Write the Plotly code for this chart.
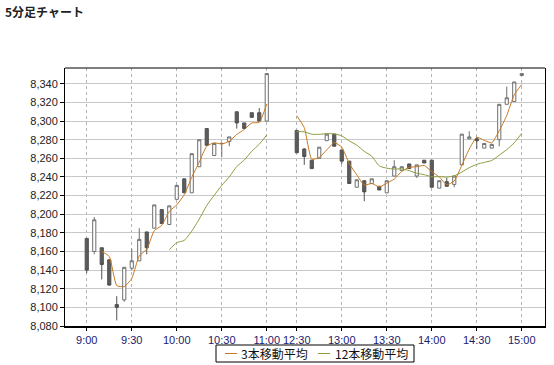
import plotly.graph_objects as go
import pandas as pd

# ---- data (5-minute bars) ----
times = ["9:00","9:05","9:10","9:15","9:20","9:25","9:30","9:35","9:40","9:45","9:50","9:55",
         "10:00","10:05","10:10","10:15","10:20","10:25","10:30","10:35","10:40","10:45","10:50","10:55","11:00",
         "12:30","12:35","12:40","12:45","12:50","12:55","13:00","13:05","13:10","13:15","13:20","13:25",
         "13:30","13:35","13:40","13:45","13:50","13:55","14:00","14:05","14:10","14:15","14:20","14:25",
         "14:30","14:35","14:40","14:45","14:50","14:55","15:00"]
opens  = [8174,8160,8164,8151,8103,8108,8142,8150,8181,8185,8205,8189,
          8216,8238,8223,8251,8292,8263,8276,8278,8310,8298,8309,8309,8300,
          8290,8270,8258,8260,8279,8286,8269,8257,8229,8236,8233,8230,
          8223,8241,8247,8254,8241,8258,8258,8228,8235,8232,8253,8281,
          8281,8271,8271,8280,8318,8321,8349]
highs  = [8174,8197,8164,8152,8112,8143,8163,8185,8181,8210,8205,8209,
          8231,8238,8265,8280,8292,8276,8276,8283,8310,8298,8309,8314,8351,
          8290,8271,8258,8272,8286,8286,8269,8257,8237,8236,8238,8230,
          8236,8258,8251,8254,8253,8258,8258,8236,8239,8241,8286,8289,
          8283,8276,8275,8318,8337,8342,8351]
lows   = [8137,8157,8130,8123,8086,8106,8140,8150,8157,8185,8190,8189,
          8216,8223,8223,8251,8274,8263,8261,8273,8292,8292,8304,8300,8300,
          8266,8253,8249,8260,8279,8273,8254,8233,8229,8214,8233,8226,
          8223,8241,8247,8249,8239,8255,8229,8228,8230,8229,8253,8281,
          8270,8271,8271,8273,8318,8321,8349]
closes = [8140,8194,8146,8124,8100,8143,8150,8173,8164,8210,8190,8209,
          8231,8223,8265,8280,8274,8276,8276,8283,8298,8292,8304,8300,8351,
          8266,8262,8249,8272,8286,8273,8257,8233,8237,8224,8238,8226,
          8236,8251,8251,8249,8253,8255,8229,8236,8230,8241,8286,8283,
          8279,8276,8275,8318,8325,8342,8351]

tick_labels = ["9:00","9:30","10:00","10:30","11:00","12:30","13:00","13:30","14:00","14:30","15:00"]
y_ticks = list(range(8080, 8341, 20))
series_names = ["3本移動平均", "12本移動平均"]
series_colors = ["#c8781e", "#8c9c3c"]

LUNCH_GAP = 3  # empty slots between morning close and afternoon open


def slot(t):
    h, m = map(int, t.split(":"))
    mins = h * 60 + m
    if mins <= 11 * 60:
        return (mins - 9 * 60) / 5
    return (11 * 60 - 9 * 60) / 5 + 1 + LUNCH_GAP + (mins - (12 * 60 + 30)) / 5


xs = [slot(t) for t in times]
tick_pos = [slot(t) for t in tick_labels]

s = pd.Series(closes, dtype=float)
ma3 = s.rolling(3).mean().tolist()
ma12 = s.rolling(12).mean().tolist()

# break the moving-average lines over the lunch gap
n_am = sum(1 for x in xs if x <= 24)
def with_break(vals):
    return vals[:n_am] + [None] + vals[n_am:]
xs_line = xs[:n_am] + [xs[n_am - 1] + 1] + xs[n_am:]

fig = go.Figure()
fig.add_trace(go.Candlestick(
    x=xs, open=opens, high=highs, low=lows, close=closes,
    increasing=dict(line=dict(color="#6e6e6e", width=1), fillcolor="#ffffff"),
    decreasing=dict(line=dict(color="#505050", width=1), fillcolor="#5c5c5c"),
    whiskerwidth=0, showlegend=False, hoverinfo="skip",
))
for name, color, vals in zip(series_names, series_colors, [ma3, ma12]):
    fig.add_trace(go.Scatter(x=xs_line, y=with_break(vals), mode="lines", name=name,
                             connectgaps=False, showlegend=False,
                             line=dict(color=color, width=1, shape="spline", smoothing=0.5)))

# ---- hand-drawn legend box (pixel layout converted to paper coords) ----
L, R, T, B = 65, 545, 68, 326
def px(x): return (x - L) / (R - L)
def py(y): return (B - y) / (B - T)

LEG_TOP, LEG_BOT = 345, 362
LEG_MID = (LEG_TOP + LEG_BOT) / 2
shapes = [
    dict(type="line", xref="paper", yref="paper", x0=0, x1=1, y0=1, y1=1,
         line=dict(color="#000000", width=1)),
    dict(type="rect", xref="paper", yref="paper", x0=px(216), x1=px(414),
         y0=py(LEG_BOT), y1=py(LEG_TOP),
         line=dict(color="#000000", width=1), fillcolor="white", layer="above"),
]
annotations = []
leg_items = [(225, 237, 239), (318, 330, 333)]
for (lx0, lx1, tx), name, color in zip(leg_items, series_names, series_colors):
    shapes.append(dict(type="line", xref="paper", yref="paper", x0=px(lx0), x1=px(lx1),
                       y0=py(LEG_MID), y1=py(LEG_MID), line=dict(color=color, width=1)))
    annotations.append(dict(text=name, xref="paper", yref="paper", x=px(tx), y=py(LEG_MID),
                            xanchor="left", yanchor="middle", showarrow=False,
                            font=dict(family="Noto Sans CJK JP", size=12, color="#111111")))

fig.update_layout(
    width=554, height=365,
    margin=dict(l=L, r=554 - R, t=T, b=365 - B),
    paper_bgcolor="white", plot_bgcolor="white",
    boxgap=0.4,
    font=dict(family="Liberation Sans, Arial, sans-serif", size=11, color="#222222"),
    title=dict(text="<b>5分足チャート</b>", x=5 / 554, xref="container", xanchor="left",
               y=1 - 13 / 365, yref="container", yanchor="middle",
               font=dict(family="Noto Sans CJK JP", size=12, color="#222222")),
    showlegend=False,
    xaxis=dict(range=[-2.9, 61.1], tickmode="array", tickvals=tick_pos, ticktext=tick_labels,
               showgrid=True, gridcolor="#b4b4b4", griddash="dot", gridwidth=1,
               showline=True, linecolor="#000000", linewidth=2, mirror=False,
               ticks="outside", ticklen=3, tickcolor="#000000",
               tickfont=dict(color="#1a1a6e", size=11),
               rangeslider=dict(visible=False), zeroline=False, fixedrange=True,
               automargin=False),
    yaxis=dict(range=[8080, 8357], tickmode="array", tickvals=y_ticks,
               tickformat=",d", showgrid=True, gridcolor="#c8c8c8", gridwidth=1,
               showline=True, linecolor="#000000", linewidth=1, mirror=True,
               ticks="outside", ticklen=4, tickcolor="#000000",
               tickfont=dict(color="#222222", size=11), zeroline=False, fixedrange=True,
               automargin=False),
    shapes=shapes,
    annotations=annotations,
)

fig.write_html("out.html")
